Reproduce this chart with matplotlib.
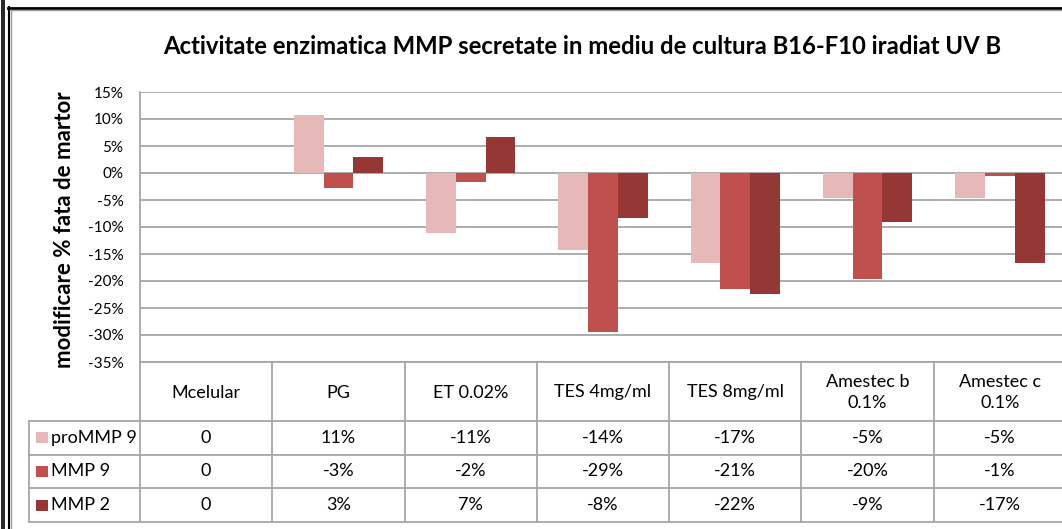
import matplotlib
matplotlib.use("Agg")
import matplotlib.pyplot as plt
from matplotlib.lines import Line2D
from matplotlib.patches import Rectangle
from matplotlib.ticker import FuncFormatter, MultipleLocator

plt.rcParams['font.family'] = ['Lato', 'DejaVu Sans']
plt.rcParams['axes.unicode_minus'] = False

# ---------------- data ----------------
categories = ["Mcelular", "PG", "ET 0.02%", "TES 4mg/ml", "TES 8mg/ml",
              "Amestec b\n0.1%", "Amestec c\n0.1%"]
series_names = ["proMMP 9", "MMP 9", "MMP 2"]
proMMP9 = [0.0, 10.7, -11.2, -14.2, -16.7, -4.6, -4.6]
MMP9 = [0.0, -2.7, -1.6, -29.4, -21.4, -19.6, -0.6]
MMP2 = [0.0, 2.9, 6.7, -8.3, -22.4, -9.1, -16.6]
series_values = [proMMP9, MMP9, MMP2]
colors = ["#E6B9B8", "#C0504D", "#953735"]
yticks = [15, 10, 5, 0, -5, -10, -15, -20, -25, -30, -35]

title = "Activitate enzimatica MMP secretate in mediu de cultura B16-F10 iradiat UV B"
ylabel = "modificare % fata de martor"

# ---------------- layout ----------------
W, H = 1062, 529
fig = plt.figure(figsize=(W / 100, H / 100), dpi=100)
fig.patch.set_facecolor("white")

def fx(px):
    return px / W

def fy(py):
    return 1 - py / H

plot_l, plot_r, plot_t, plot_b = 140, 1066, 92, 362
ax = fig.add_axes([fx(plot_l), fy(plot_b), fx(plot_r - plot_l), (plot_b - plot_t) / H])
n = len(categories)
bw = 0.225
offsets = [-bw, 0, bw]
grid_c = "#a6a6a6"
for vals, off, c in zip(series_values, offsets, colors):
    ax.bar([i + 0.5 + off for i in range(n)], [v / 100 for v in vals], width=bw,
           color=c, edgecolor="none", zorder=3)
ax.set_xlim(0, n)
ax.set_ylim(min(yticks) / 100, max(yticks) / 100)
ax.yaxis.set_major_locator(MultipleLocator(0.05))
ax.yaxis.set_major_formatter(FuncFormatter(lambda v, p: f"{round(v * 100):.0f}%"))
ax.grid(axis="y", color=grid_c, lw=1.3, zorder=0)
ax.set_xticks([])
ax.tick_params(axis="y", length=0, labelsize=11, pad=12)
for s in ["top", "right"]:
    ax.spines[s].set_visible(False)
ax.spines["left"].set_color(grid_c)
ax.spines["bottom"].set_color(grid_c)
ax.spines["left"].set_linewidth(1.3)
ax.spines["bottom"].set_linewidth(1.3)

fig.text(fx(582), fy(47), title, ha="center", va="center", fontsize=17.2, fontweight="bold")
fig.text(fx(65), fy(230), ylabel, ha="center", va="center", rotation=90,
         fontsize=16, fontweight="bold")

# ---------------- data table ----------------
leg_l = 29
cat_w = (plot_r - plot_l) / n
legw = (plot_l - leg_l) / cat_w
tb_t, tb_b = plot_b, 522
tax = fig.add_axes([fx(leg_l), fy(tb_b), fx(plot_r - leg_l), (tb_b - tb_t) / H])
tax.set_xlim(-legw, n)
tax.set_ylim(tb_b - tb_t, 0)
tax.axis("off")
hdr = 59
rowh = (tb_b - tb_t - hdr) / 3
lc = "#a6a6a6"
for k in range(4):
    y = hdr + k * rowh
    tax.plot([-legw, n], [y, y], color=lc, lw=1.3, clip_on=False)
tax.plot([-legw, -legw], [hdr, tb_b - tb_t], color=lc, lw=1.3, clip_on=False)
for i in range(n + 1):
    tax.plot([i, i], [0, tb_b - tb_t], color=lc, lw=1.3, clip_on=False)
for i, cat in enumerate(categories):
    tax.text(i + 0.5, hdr / 2 + 1, cat, ha="center", va="center", fontsize=13,
             linespacing=1.4)

def fmt(v):
    r = round(v)
    return "0" if v == 0 else f"{r:.0f}%"

for k, (name, vals, c) in enumerate(zip(series_names, series_values, colors)):
    yc = hdr + (k + 0.5) * rowh
    tax.add_patch(Rectangle((-legw + 0.055, yc - 5.5), 0.085, 11, facecolor=c,
                            edgecolor="none", clip_on=False))
    tax.text(-legw + 0.17, yc, name, ha="left", va="center", fontsize=13)
    for i, v in enumerate(vals):
        tax.text(i + 0.5, yc, fmt(v), ha="center", va="center", fontsize=13)

# ---------------- frame lines ----------------
for x in [1.5, 4.0]:
    fig.add_artist(Line2D([fx(x), fx(x)], [0, 1], color="black", lw=1.2))
fig.add_artist(Line2D([fx(8.5), fx(8.5)], [0, fy(7)], color="black", lw=1.5))
fig.add_artist(Line2D([fx(11), fx(11)], [0, fy(10)], color="#9a9a9a", lw=1.0))
fig.add_artist(Line2D([fx(8), 1], [fy(7.5), fy(7.5)], color="black", lw=2.0))
fig.add_artist(Line2D([fx(11), 1], [fy(10), fy(10)], color="#9a9a9a", lw=1.0))

fig.savefig("out.png", dpi=100, facecolor="white")
